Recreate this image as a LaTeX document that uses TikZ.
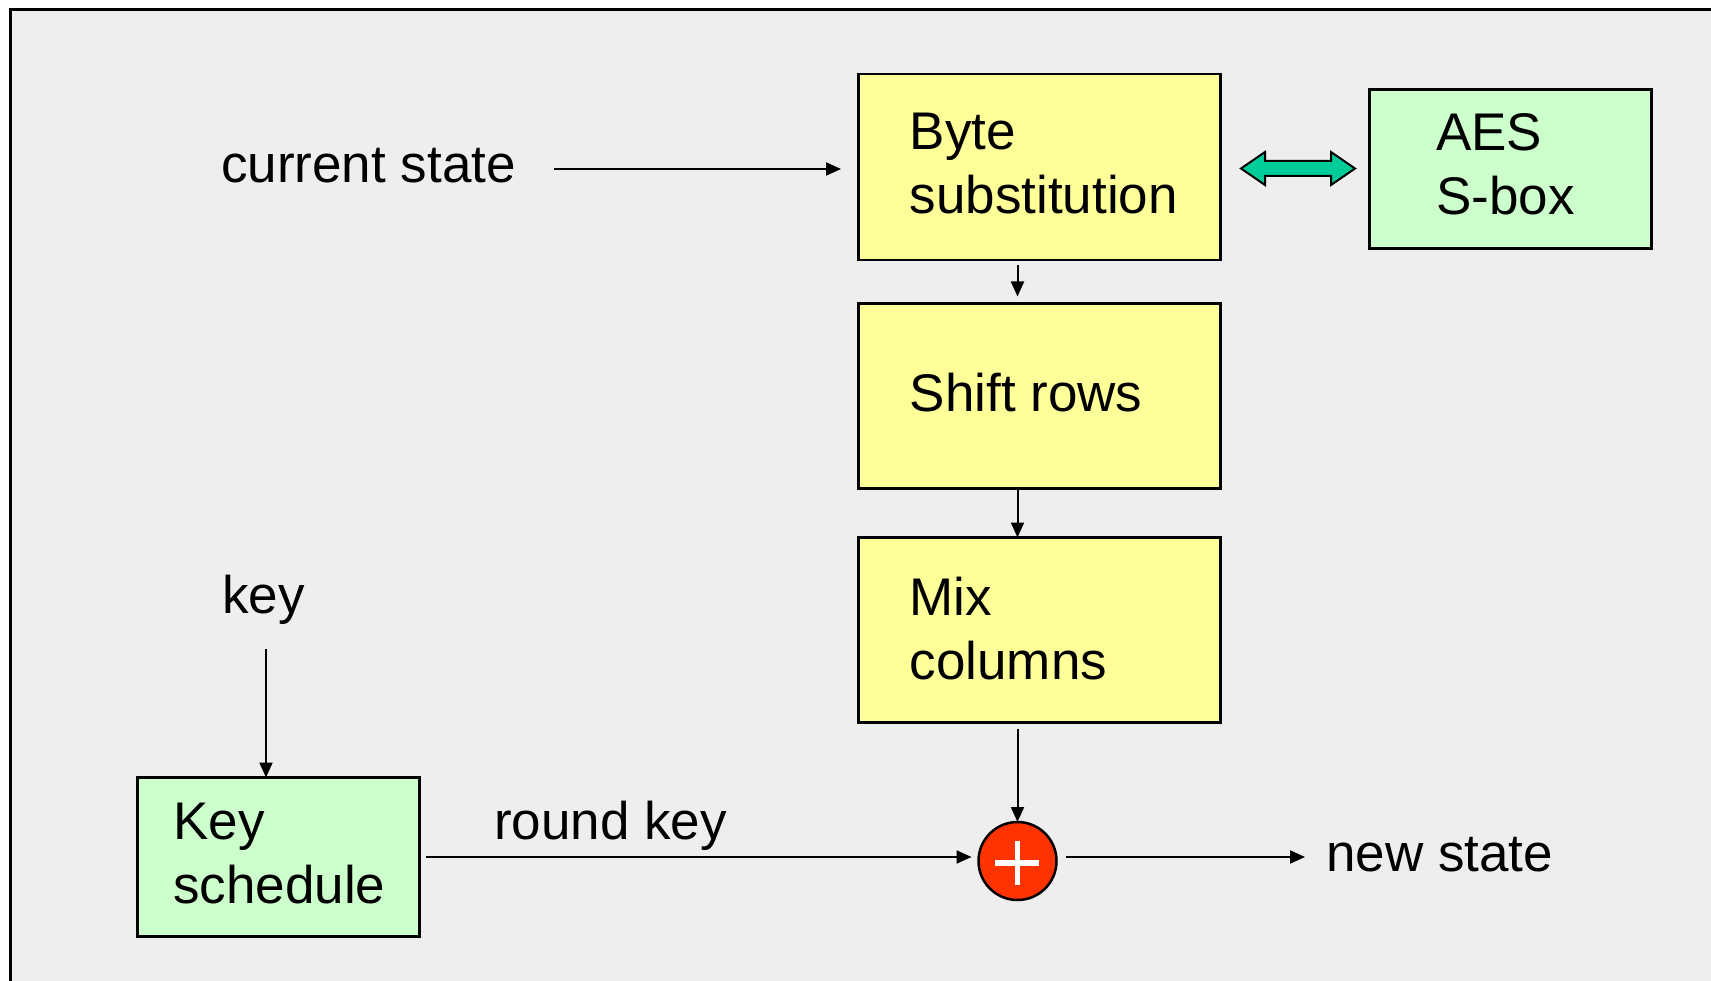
\documentclass[tikz,border=0pt]{standalone}
\usepackage{fontspec}
\setmainfont{Liberation Sans}
\usetikzlibrary{arrows.meta,calc}
\definecolor{bgc}{HTML}{EEEEEE}
\definecolor{ylw}{HTML}{FFFF99}
\definecolor{grn}{HTML}{CCFFCC}
\definecolor{xred}{HTML}{FF3300}
\definecolor{tealc}{HTML}{00CC99}
\begin{document}
\begin{tikzpicture}[x=1pt,y=-1pt,
  box/.style={draw=black,line width=2.5pt,rectangle,inner sep=0pt,outer sep=0pt,anchor=north west},
  ybox/.style={box,fill=ylw},
  gbox/.style={box,fill=grn},
  lbl/.style={inner sep=0pt,anchor=base west,align=left,font=\fontsize{53}{64}\selectfont},
  arr/.style={line width=2pt,-{Triangle[length=15pt,width=13pt]}}]
\useasboundingbox (0,0) rectangle (1711,981);
\fill[white] (0,0) rectangle (1711,981);
\fill[bgc] (10,9.5) rectangle (1711,981);
\draw[line width=3pt] (10,981) -- (10,9.5) -- (1711,9.5);
% boxes
\node[ybox,minimum width=362pt,minimum height=186pt] (bs) at (858.5,74) {};
\node[ybox,minimum width=362pt,minimum height=185pt] (sr) at (858.5,303.5) {};
\node[ybox,minimum width=362pt,minimum height=185pt] (mc) at (858.5,537.5) {};
\node[gbox,minimum width=282pt,minimum height=159pt] (sb) at (1369.5,89.5) {};
\node[gbox,minimum width=282pt,minimum height=159pt] (ks) at (137.5,777.5) {};
\node[circle,draw=black,line width=2.5pt,fill=xred,minimum size=78pt,inner sep=0pt,outer sep=0pt] (xor) at (1017.5,861) {};
\fill[white] (995,860) rectangle (1039,865.5);
\fill[white] (1014.5,841) rectangle (1020,885);
% texts (base anchor of multi-line nodes is the last line's baseline)
\node[lbl] (bst) at (909.5,214) {Byte\\substitution};
\node[lbl] (srt) at (909.5,412) {Shift rows};
\node[lbl] (mct) at (909.5,679) {Mix\\columns};
\node[lbl] (sbt) at (1436,215) {AES\\S-box};
\node[lbl] (kst) at (173,903) {Key\\schedule};
\node[lbl] (cs) at (221,183) {current state};
\node[lbl] (key) at (222,613) {key};
\node[lbl] (rk) at (494,839) {round key};
\node[lbl] (ns) at (1326,871) {new state};
% connectors
\coordinate (csA) at (554,169);
\coordinate (csB) at (841,169);
\draw[arr] (csA) -- (csB);
\draw[arr,shorten <=5pt,shorten >=7pt] (bs.south -| xor) -- (sr.north -| xor);
\draw[arr] (sr.south -| xor) -- (mc.north -| xor);
\draw[arr,shorten <=6pt] (mc.south -| xor) -- (xor.north);
\coordinate (keyA) at (266,649);
\draw[arr] (keyA) -- (ks.north -| keyA);
\draw[arr,shorten <=6pt,shorten >=7pt] (ks.east) -- (xor.west |- ks.east);
\coordinate (nsB) at (1305,857);
\draw[arr,shorten <=9pt] (xor.east |- nsB) -- (nsB);
% double arrow
\filldraw[fill=tealc,draw=black,line width=2pt,line join=miter]
  (1241,168.5) -- (1265,152) -- (1265,161) -- (1331,161) -- (1331,152) -- (1355,168.5)
  -- (1331,185) -- (1331,176) -- (1265,176) -- (1265,185) -- cycle;
\end{tikzpicture}
\end{document}
